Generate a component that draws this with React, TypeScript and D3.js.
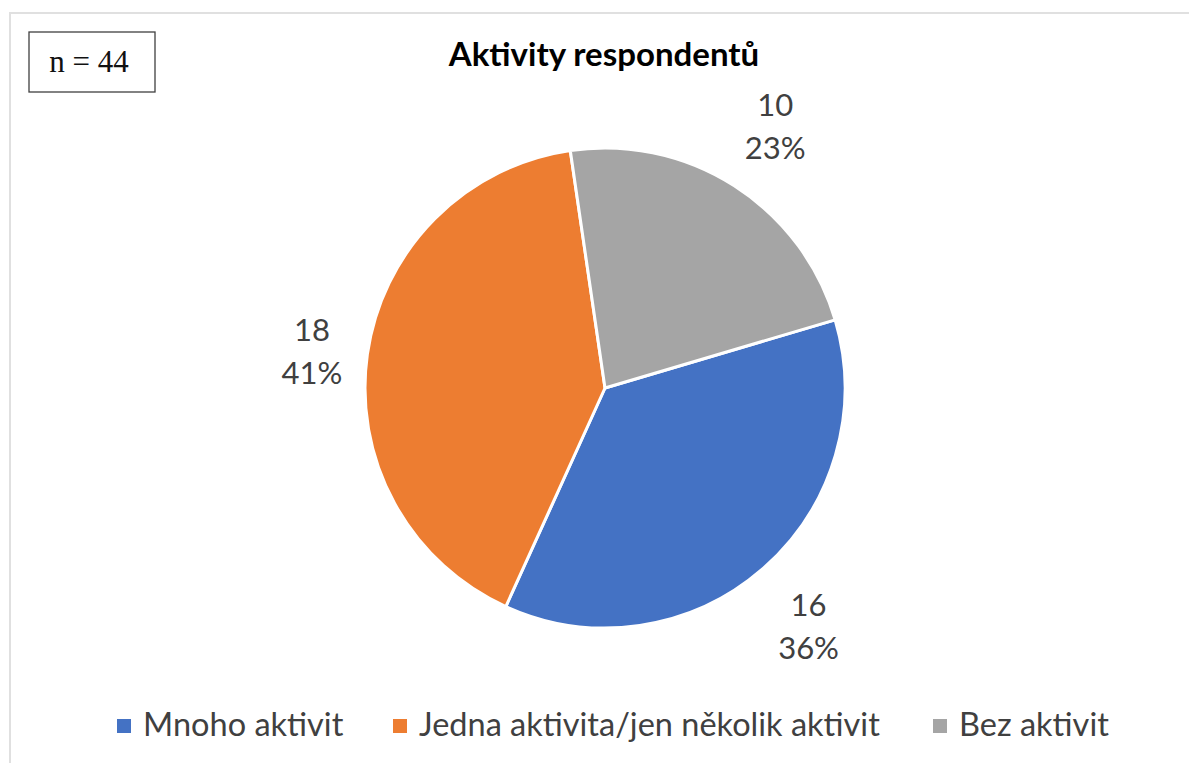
import React from "react";
import * as d3 from "d3";

const categories = ["Mnoho aktivit", "Jedna aktivita/jen několik aktivit", "Bez aktivit"];
const counts = [16, 18, 10];
const percentLabels = ["36%", "41%", "23%"];
const colors = ["#4472C4", "#ED7D31", "#A5A5A5"];
const title = "Aktivity respondentů";
const sampleNote = "n = 44";

const W = 1189;
const H = 763;
const cx = 605;
const cy = 388;
const R = 240;
// rotation of the first slice, in degrees clockwise from 12 o'clock
const firstSliceAngle = 73.5;
// distance from the centre for each data label
const labelRadius = [310, 296, 316];

export default function App() {
  const start = (firstSliceAngle * Math.PI) / 180;
  const pie = d3
    .pie<number>()
    .sort(null)
    .startAngle(start)
    .endAngle(start + 2 * Math.PI);
  const arcs = pie(counts);
  const arcGen = d3.arc<d3.PieArcDatum<number>>().innerRadius(0).outerRadius(R);

  const font = "Lato, 'Open Sans', sans-serif";
  const legendX = [117, 393, 933];

  return (
    <svg
      width={W}
      height={H}
      style={{ position: "absolute", left: 0, top: 0, background: "#fff" }}
      fontFamily={font}
    >
      <rect x={10} y={13} width={W + 20} height={H + 20} fill="#fff" stroke="#e0e0e0" strokeWidth={2} />
      <rect x={29} y={32} width={126} height={60} fill="#fff" stroke="#404040" strokeWidth={1.3} />
      <text
        x={89}
        y={72}
        textAnchor="middle"
        fontFamily="'Liberation Serif', 'Times New Roman', serif"
        fontSize={31}
        fill="#111"
      >
        {sampleNote}
      </text>
      <text x={604} y={66} textAnchor="middle" fontSize={33} fontWeight={700} fill="#000">
        {title}
      </text>
      <g transform={`translate(${cx},${cy})`}>
        {arcs.map((a, i) => (
          <path key={i} d={arcGen(a) || ""} fill={colors[i]} stroke="#fff" strokeWidth={3} strokeLinejoin="round" />
        ))}
        {arcs.map((a, i) => {
          const mid = (a.startAngle + a.endAngle) / 2;
          const x = Math.sin(mid) * labelRadius[i];
          const y = -Math.cos(mid) * labelRadius[i];
          return (
            <text key={i} x={x} y={y} textAnchor="middle" fontSize={31} fill="#404040">
              <tspan x={x} dy={-6}>{counts[i]}</tspan>
              <tspan x={x} dy={43}>{percentLabels[i]}</tspan>
            </text>
          );
        })}
      </g>
      {categories.map((c, i) => (
        <g key={c} transform={`translate(${legendX[i]},726)`}>
          <rect x={0} y={-7} width={14} height={14} fill={colors[i]} />
          <text x={26} y={10} fontSize={32.5} fill="#404040">
            {c}
          </text>
        </g>
      ))}
    </svg>
  );
}
